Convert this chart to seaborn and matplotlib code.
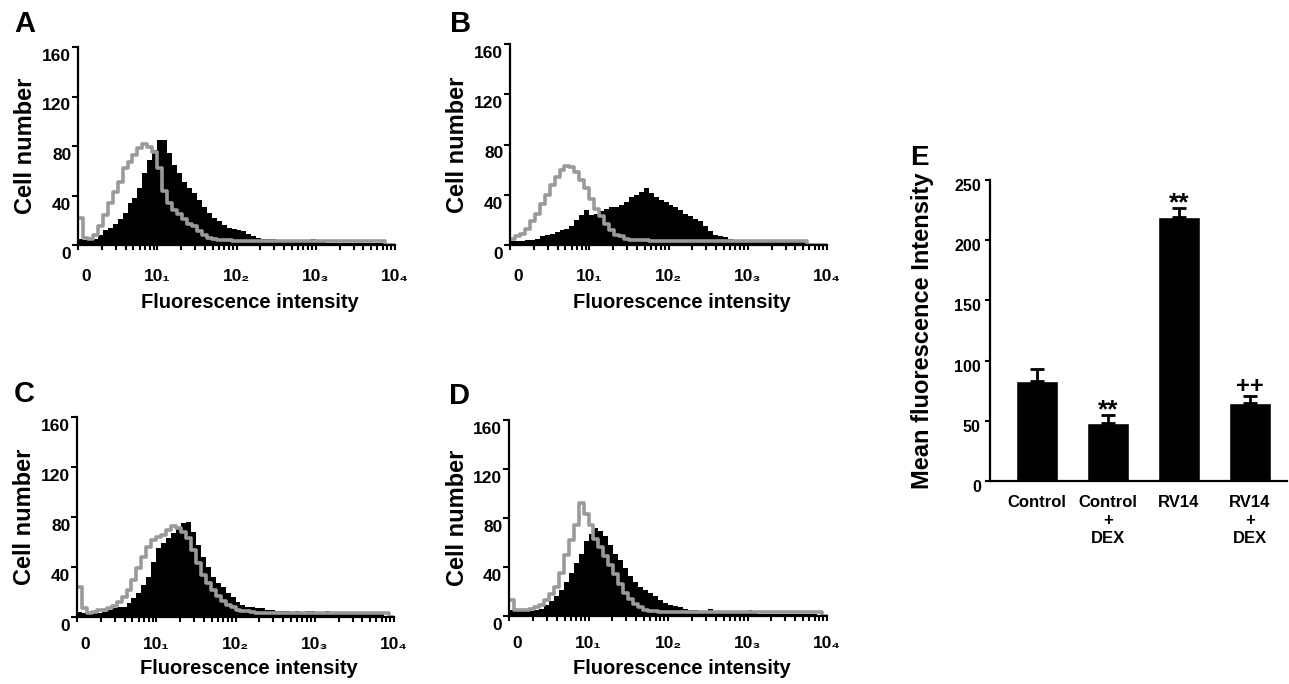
import numpy as np
import pandas as pd
import matplotlib
matplotlib.use("Agg")
import matplotlib.pyplot as plt
import seaborn as sns
from matplotlib.ticker import LogLocator, NullFormatter
from matplotlib.transforms import ScaledTranslation

# flow cytometry histograms, 16 channels per decade from 10^0 to 10^4
n_channels = 64
channel_centers = 10 ** ((np.arange(n_channels) + 0.5) / 16)

# black filled = stained cells, gray outline = isotype control
A_stained = [5, 4, 4, 5, 8, 12, 14, 17, 21, 26,
             34, 38, 46, 58, 69, 77, 85, 85, 74, 65,
             58, 51, 46, 42, 36, 31, 26, 22, 19, 16,
             14, 13, 12, 11, 9, 7, 6, 5, 5, 5,
             4, 4, 4, 3, 3, 3, 3, 5, 3, 3,
             2, 2, 2, 2, 2, 2, 2, 2, 2, 2,
             2, 2, 0, 0]
A_isotype = [22, 6, 5, 8, 15, 24, 34, 43, 51, 62,
             67, 73, 78, 82, 79, 75, 62, 44, 34, 28,
             25, 21, 17, 15, 11, 8, 6, 5, 4, 4,
             4, 3, 3, 3, 3, 3, 3, 3, 3, 3,
             3, 3, 3, 3, 3, 3, 3, 3, 3, 3,
             3, 3, 3, 3, 3, 3, 3, 3, 3, 3,
             3, 3, 0, 0]

B_stained = [3, 3, 3, 4, 4, 5, 7, 8, 9, 10,
             12, 13, 15, 20, 24, 28, 24, 25, 27, 29,
             30, 30, 32, 34, 38, 40, 42, 45, 41, 38,
             36, 34, 32, 30, 28, 25, 23, 21, 19, 15,
             11, 8, 7, 6, 5, 4, 4, 4, 4, 4,
             4, 2, 2, 2, 2, 2, 2, 2, 2, 2,
             0, 0, 0, 0]
B_isotype = [5, 7, 9, 13, 19, 25, 33, 40, 48, 54,
             60, 63, 62, 58, 52, 45, 37, 29, 23, 17,
             12, 8, 7, 5, 4, 4, 4, 4, 3, 3,
             3, 3, 3, 3, 3, 3, 3, 3, 3, 3,
             3, 3, 3, 3, 3, 3, 3, 3, 3, 3,
             3, 3, 3, 3, 3, 3, 3, 3, 3, 3,
             0, 0, 0, 0]

C_stained = [4, 3, 3, 3, 3, 4, 6, 7, 8, 8,
             11, 15, 19, 26, 32, 44, 55, 59, 63, 67,
             72, 75, 76, 68, 58, 48, 40, 32, 27, 24,
             19, 16, 12, 10, 8, 8, 7, 7, 6, 6,
             5, 5, 5, 4, 5, 4, 5, 5, 4, 4,
             5, 4, 3, 3, 3, 3, 3, 3, 3, 3,
             3, 3, 0, 0]
C_isotype = [24, 7, 3, 4, 6, 6, 7, 9, 12, 16,
             22, 30, 39, 48, 56, 62, 64, 66, 70, 73,
             71, 68, 63, 54, 43, 34, 27, 22, 17, 13,
             10, 8, 6, 5, 5, 4, 3, 3, 3, 3,
             3, 3, 3, 3, 3, 3, 3, 3, 3, 3,
             3, 3, 3, 3, 3, 3, 3, 3, 3, 3,
             3, 3, 3, 0]

D_stained = [5, 4, 4, 4, 4, 5, 6, 9, 12, 16,
             21, 28, 35, 43, 51, 61, 67, 72, 69, 65,
             58, 51, 46, 39, 33, 28, 24, 21, 19, 16,
             13, 11, 9, 8, 7, 6, 5, 5, 4, 4,
             6, 4, 4, 4, 3, 3, 3, 3, 5, 3,
             2, 2, 2, 2, 2, 2, 2, 2, 2, 2,
             2, 2, 0, 0]
D_isotype = [13, 5, 5, 5, 6, 7, 9, 13, 18, 24,
             35, 50, 62, 74, 92, 83, 74, 63, 56, 49,
             42, 34, 26, 19, 14, 10, 7, 5, 4, 4,
             3, 3, 3, 3, 3, 3, 3, 3, 3, 3,
             3, 3, 3, 3, 3, 3, 3, 3, 3, 3,
             3, 3, 3, 3, 3, 3, 3, 3, 3, 3,
             3, 3, 3, 0]

x_ticks = [1, 10, 100, 1000, 10000]
x_tick_labels = ["0", "10\u2081", "10\u2082", "10\u2083", "10\u2084"]
y_ticks = [0, 40, 80, 120, 160]

# panel E
groups = ["Control", "Control\n+\nDEX", "RV14", "RV14\n+\nDEX"]
mfi = [83, 48, 219, 65]
mfi_sem = [10, 7, 8, 5.5]
marks = ["", "**", "**", "++"]

sns.set_style("ticks")
plt.rcParams["font.family"] = ["Liberation Sans", "DejaVu Sans"]
plt.rcParams["font.weight"] = "bold"
plt.rcParams["axes.linewidth"] = 1.6
for key in ["text.color", "axes.labelcolor", "axes.edgecolor", "xtick.color", "ytick.color"]:
    plt.rcParams[key] = "black"

W, H = 1289, 684
fig = plt.figure(figsize=(W / 100, H / 100), dpi=100)


def px_axes(left, top, right, bottom):
    return fig.add_axes([left / W, 1 - bottom / H, (right - left) / W, (bottom - top) / H])


def shift(dx_px, dy_px):
    return ScaledTranslation(dx_px / 100, dy_px / 100, fig.dpi_scale_trans)


def draw_histogram(ax, stained, isotype, tick_pad, xlabel_drop):
    df = pd.DataFrame({"intensity": channel_centers, "stained": stained, "isotype": isotype})
    sns.histplot(data=df, x="intensity", weights="stained", bins=n_channels, binrange=(0, 4),
                 log_scale=True, element="step", fill=True, color="black", alpha=1,
                 linewidth=0, ax=ax)
    sns.histplot(data=df, x="intensity", weights="isotype", bins=n_channels, binrange=(0, 4),
                 log_scale=True, element="step", fill=False, color="#9a9a9a",
                 linewidth=2.6, ax=ax)
    ax.set_xlim(1, 1e4)
    ax.set_ylim(0, 160)
    sns.despine(ax=ax)

    ax.set_xticks(x_ticks, labels=x_tick_labels)
    ax.xaxis.set_minor_locator(LogLocator(base=10, subs=np.arange(2, 10)))
    ax.xaxis.set_minor_formatter(NullFormatter())
    ax.set_yticks(y_ticks)
    ax.tick_params(axis="x", which="both", length=3.6, width=1.5, pad=tick_pad, labelsize=12.5)
    ax.tick_params(axis="y", length=4.3, width=1.5, pad=0.5, labelsize=12.5)
    for lbl in ax.get_yticklabels():
        lbl.set_transform(lbl.get_transform() + shift(0, -8))
    first = ax.get_xticklabels()[0]
    first.set_transform(first.get_transform() + shift(8, 0))

    h = ax.bbox.height
    w = ax.bbox.width
    ax.set_xlabel("Fluorescence intensity", fontsize=14.5, fontweight="bold", va="center")
    ax.xaxis.set_label_coords(0.543, -xlabel_drop / h)
    ax.set_ylabel("Cell number", fontsize=17, fontweight="bold", va="center")
    ax.yaxis.set_label_coords(-52 / w, 0.5)


panels = [
    ("A", (78, 47, 395, 245), A_stained, A_isotype, 14, 57, (25, 24)),
    ("B", (510, 44, 827, 245), B_stained, B_isotype, 14, 57, (461, 24)),
    ("C", (77, 417, 394, 617), C_stained, C_isotype, 11, 52, (24, 394)),
    ("D", (509, 420, 827, 616), D_stained, D_isotype, 11, 52, (459, 396)),
]
for letter, rect, stained, isotype, pad, drop, pos in panels:
    ax = px_axes(*rect)
    draw_histogram(ax, stained, isotype, pad, drop)
    fig.text(pos[0] / W, 1 - pos[1] / H, letter, ha="center", va="center",
             fontsize=21, fontweight="bold")

# bar chart of mean fluorescence intensity
axE = px_axes(990, 180, 1287, 481)
sns.barplot(x=groups, y=mfi, color="black", saturation=1, width=0.6, ax=axE)
axE.errorbar(np.arange(len(groups)), mfi, yerr=[np.zeros(len(groups)), mfi_sem], fmt="none",
             ecolor="black", elinewidth=2, capsize=5, capthick=2)
for i, (m, s, t) in enumerate(zip(mfi, mfi_sem, marks)):
    if t == "**":
        axE.annotate(t, (i, m + s), xytext=(0, -2), textcoords="offset points",
                     ha="center", va="baseline", fontsize=19, fontweight="bold")
    elif t:
        axE.annotate(t, (i, m + s), xytext=(0, 2.5), textcoords="offset points",
                     ha="center", va="baseline", fontsize=17, fontweight="bold")
axE.set_xlim(-0.66, 3.52)
axE.set_ylim(0, 250)
axE.set_yticks([0, 50, 100, 150, 200, 250])
sns.despine(ax=axE)
axE.tick_params(axis="x", length=0, pad=10, labelsize=12)
axE.tick_params(axis="y", length=3.6, width=1.5, pad=3, labelsize=11.5)
for lbl in axE.get_xticklabels():
    lbl.set_linespacing(1.25)
for lbl in axE.get_yticklabels():
    lbl.set_transform(lbl.get_transform() + shift(0, -5))
axE.set_ylabel("Mean fluorescence Intensity", fontsize=17, fontweight="bold", va="center")
axE.yaxis.set_label_coords(-68 / axE.bbox.width, 0.5)
axE.set_xlabel("")
fig.text(919 / W, 1 - 158 / H, "E", ha="center", va="center", fontsize=20, fontweight="bold")

fig.savefig("out.png", dpi=100, facecolor="white")
